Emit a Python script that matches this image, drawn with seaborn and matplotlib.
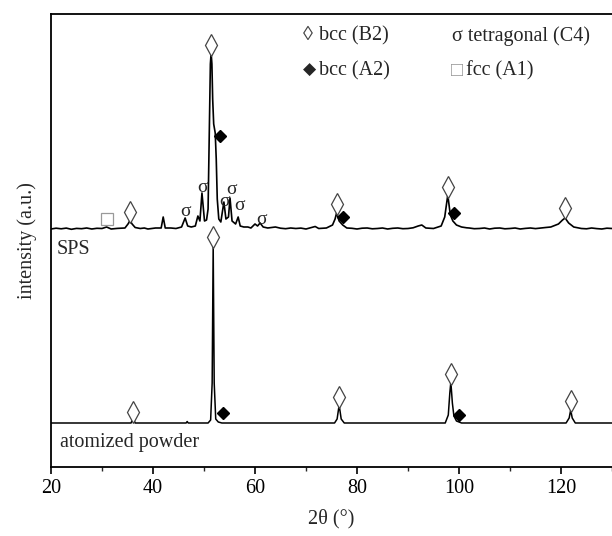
import numpy as np
import pandas as pd
import matplotlib
matplotlib.use("Agg")
import matplotlib.pyplot as plt
import seaborn as sns

# XRD patterns (2theta, intensity above own baseline)
sps_2theta = [20.0, 21.0, 22.0, 23.0, 24.0, 25.0, 26.0, 27.0, 28.0, 29.0, 30.0, 30.9, 31.8, 33.0,
              34.5, 35.1, 35.5, 35.9, 36.5, 37.5, 38.3, 39.0, 40.5, 41.6, 42.0, 42.4, 43.5, 44.5,
              45.6, 46.3, 46.8, 47.5, 48.3, 48.8, 49.2, 49.6, 50.1, 50.5, 50.8, 51.1, 51.25, 51.4,
              51.55, 51.7, 51.9, 52.2, 52.4, 52.6, 52.9, 53.3, 53.9, 54.3, 54.8, 55.1, 55.5, 56.2,
              56.7, 57.1, 57.8, 58.6, 59.2, 60.0, 60.5, 61.0, 61.6, 62.5, 64.0, 65.0, 66.0, 67.0,
              68.0, 69.0, 70.0, 71.8, 72.5, 74.0, 75.2, 75.7, 76.0, 76.5, 77.2, 78.0, 79.0, 80.0,
              81.0, 82.0, 83.0, 84.0, 85.0, 86.0, 87.0, 88.0, 89.0, 90.0, 91.0, 92.0, 92.7, 93.5,
              95.0, 96.5, 97.2, 97.8, 98.3, 98.8, 99.5, 100.5, 101.5, 102.0, 103.0, 104.0, 105.0,
              106.0, 107.0, 108.0, 109.0, 110.0, 111.0, 112.0, 113.0, 114.0, 115.0, 116.0, 117.0,
              118.0, 119.5, 120.3, 120.8, 121.5, 122.5, 123.5, 124.0, 125.0, 126.0, 127.0, 128.0,
              129.0, 130.0]
sps_int = [0, 0.8, 0.2, 0.9, -0.3, 0.6, 0.3, 1.0, 0, 0.7, 0.5, 2, 0, 0.6,
           1, 5, 8.5, 5, 1.5, 0.5, 1.0, 0, 1, 1, 12, 1, 1, 0.5,
           2, 11, 3, 2, 3, 13, 8, 36, 8, 9, 20, 120, 165, 176,
           165, 130, 105, 96, 70, 30, 10, 7, 27, 10, 12, 31, 8, 5,
           12, 3, 2, 2, 1, 5, 3, 6, 2, 1, 2, 0.8, 0.3, 1.0,
           0.5, 0.9, 0, 2.5, 0.5, 1, 4, 10, 16, 8, 4, 1, 0.7, 0,
           0.8, 1, 0.2, 0.5, 1.0, 0, 0.7, 1, 0.3, 0.5, 1.2, 3, 4, 1,
           0.5, 3, 12, 34, 14, 8, 4, 2, 1.2, 1, 0.3, 0.5, 1.0,
           0, 0.8, 1, 0.2, 0.5, 1.0, 0, 0.6, 1, 0.4, 1, 1.5,
           2, 5, 9, 11, 6, 2, 1.0, 0.5, 0.2, 1, 0.4, 0,
           0.8, 0.5]

powder_2theta = [20.0, 35.7, 36.1, 36.5, 46.5, 46.7, 46.9, 50.8, 51.3, 51.6, 51.8, 52.0, 52.3, 52.8,
                 53.5, 75.6, 76.1, 76.5, 76.9, 77.5, 97.3, 97.9, 98.2, 98.4, 98.7, 99.0, 99.5,
                 100.5, 121.0, 121.6, 121.9, 122.2, 122.8, 130.0]
powder_int = [0, 0, 5, 0, 0, 1.5, 0, 0, 3, 40, 178, 40, 4, 1,
              0, 0, 4, 18, 4, 0, 0, 8, 30, 41, 20, 7, 2,
              0, 0, 5, 13, 5, 0, 0]

sps_offset = 238
powder_offset = 44

# phase markers (2theta, height in plot units)
b2_x = [35.5, 51.4, 76.0, 97.8, 120.8, 36.1, 51.8, 76.5, 98.4, 121.9]
b2_y = [255, 422, 263, 280, 259, 55, 230, 70, 93, 66]
a2_x = [53.1, 77.2, 99.0, 53.7, 100.0]
a2_y = [331, 250, 254, 54, 52]
sigma_x = [46.3, 49.7, 54.0, 55.4, 56.9, 61.2]
sigma_y = [256, 280, 265, 278, 262, 248]
fcc_x = [30.9]
fcc_y = [248]

sns.set_style("ticks")
plt.rcParams["font.family"] = ["Liberation Serif", "DejaVu Serif"]

fig = plt.figure(figsize=(6.12, 5.36), dpi=100)
ax = fig.add_axes([51 / 612, 69 / 536, 561 / 612, 453 / 536])

df_sps = pd.DataFrame({"x": sps_2theta, "y": np.array(sps_int) + sps_offset})
df_pow = pd.DataFrame({"x": powder_2theta, "y": np.array(powder_int) + powder_offset})
sns.lineplot(data=df_sps, x="x", y="y", color="black", lw=1.2, sort=False, estimator=None, ax=ax)
sns.lineplot(data=df_pow, x="x", y="y", color="black", lw=1.1, sort=False, estimator=None, ax=ax)

ax.plot(b2_x, b2_y, ls="none", marker="d", ms=11, mfc="white", mec="#444444", mew=0.9)
ax.plot(a2_x, a2_y, ls="none", marker="D", ms=6, mfc="black", mec="black")
ax.plot(fcc_x, fcc_y, ls="none", marker="s", ms=9, mfc="white", mec="#999999", mew=0.9)
for sx, sy in zip(sigma_x, sigma_y):
    ax.text(sx, sy, "σ", ha="center", va="center", fontsize=14)

fs = 14.5
ax.text(21.2, 217, "SPS", fontsize=fs, va="center")
ax.text(21.8, 25, "atomized powder", fontsize=fs, va="center")

ax.text(69.4, 431, "◊", fontsize=fs, va="center", color="#444444")
ax.text(72.6, 431, "bcc (B2)", fontsize=fs, va="center")
ax.text(69.4, 396, "◆", fontsize=fs * 0.85, va="center")
ax.text(72.6, 396, "bcc (A2)", fontsize=fs, va="center")
ax.text(98.6, 431, "σ tetragonal (C4)", fontsize=fs, va="center")
ax.text(98.4, 396, "□", fontsize=fs, va="center", color="#999999")
ax.text(101.4, 396, "fcc (A1)", fontsize=fs, va="center")

ax.set_xlim(20, 130)
ax.set_ylim(0, 453)
ax.set_xticks([20, 40, 60, 80, 100, 120])
ax.set_xticks(np.arange(30, 131, 20), minor=True)
ax.set_yticks([])
ax.tick_params(axis="x", which="major", direction="out", length=5, width=1.2, labelsize=fs, colors="black")
ax.tick_params(axis="x", which="minor", direction="out", length=3, width=1.0)
for side in ["left", "bottom", "top"]:
    ax.spines[side].set_linewidth(1.3)
    ax.spines[side].set_color("black")
ax.spines["right"].set_visible(False)
ax.set_xlabel("2θ (°)", fontsize=fs, labelpad=8)
ax.set_ylabel("intensity (a.u.)", fontsize=fs, labelpad=10)

fig.savefig("out.png", dpi=100)
